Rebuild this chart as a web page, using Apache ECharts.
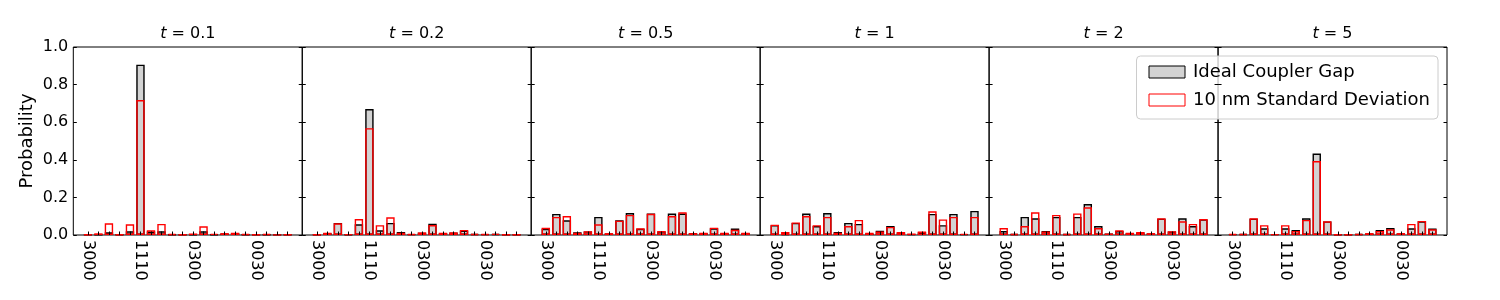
<!DOCTYPE html>
<html>
<head>
<meta charset="utf-8">
<script src="https://cdn.jsdelivr.net/npm/echarts@6/dist/echarts.min.js"></script>
<style>html,body{margin:0;padding:0;background:#fff}#c{width:1500px;height:300px}</style>
</head>
<body>
<div id="c"></div>
<script>
const states = ['3000','2100','2010','2001','1200','1110','1101','1020','1011','1002','0300','0210','0201','0120','0111','0102','0030','0021','0012','0003'];
const shownLabels = ['3000','1110','0300','0030'];
const times = ['0.1','0.2','0.5','1','2','5'];
const yTicks = [0, 0.2, 0.4, 0.6, 0.8, 1.0];

const ideal_t01 = [0.001,0.001,0.015,0.002,0.02,0.906,0.018,0.02,0.002,0.001,0.003,0.02,0.003,0.008,0.01,0.002,0.001,0.002,0.001,0.001];
const std_t01   = [0.003,0.009,0.062,0.003,0.057,0.718,0.025,0.059,0.006,0.002,0.008,0.046,0.007,0.01,0.012,0.005,0.002,0.005,0.001,0.002];
const ideal_t02 = [0.001,0.01,0.064,0.003,0.057,0.67,0.025,0.064,0.016,0.004,0.012,0.06,0.01,0.013,0.023,0.005,0.004,0.005,0.001,0.001];
const std_t02   = [0.002,0.012,0.062,0.004,0.085,0.568,0.052,0.094,0.012,0.005,0.014,0.053,0.012,0.014,0.027,0.006,0.005,0.007,0.002,0.002];
const ideal_t05 = [0.033,0.112,0.078,0.015,0.019,0.096,0.008,0.078,0.117,0.033,0.114,0.019,0.114,0.114,0.01,0.01,0.036,0.01,0.034,0.01];
const std_t05   = [0.038,0.096,0.101,0.012,0.02,0.057,0.01,0.076,0.107,0.036,0.113,0.021,0.101,0.121,0.01,0.012,0.039,0.012,0.028,0.012];
const ideal_t1  = [0.052,0.005,0.064,0.114,0.048,0.117,0.016,0.064,0.059,0.008,0.023,0.048,0.013,0.004,0.014,0.112,0.052,0.112,0.004,0.128];
const std_t1    = [0.055,0.016,0.067,0.101,0.052,0.096,0.012,0.048,0.08,0.012,0.018,0.043,0.016,0.008,0.018,0.126,0.083,0.096,0.007,0.096];
const ideal_t2  = [0.021,0.005,0.096,0.089,0.021,0.096,0.006,0.096,0.165,0.048,0.008,0.021,0.01,0.013,0.008,0.087,0.018,0.089,0.048,0.083];
const std_t2    = [0.037,0.006,0.048,0.121,0.018,0.107,0.006,0.115,0.147,0.037,0.008,0.025,0.012,0.016,0.01,0.089,0.02,0.073,0.059,0.085];
const ideal_t5  = [0.004,0.005,0.087,0.036,0.004,0.036,0.027,0.089,0.433,0.072,0.003,0.003,0.005,0.008,0.027,0.037,0.008,0.036,0.073,0.034];
const std_t5    = [0.006,0.005,0.089,0.052,0.004,0.052,0.021,0.08,0.393,0.073,0.003,0.003,0.005,0.01,0.021,0.03,0.01,0.059,0.075,0.03];

const idealSets = [ideal_t01, ideal_t02, ideal_t05, ideal_t1, ideal_t2, ideal_t5];
const stdSets = [std_t01, std_t02, std_t05, std_t1, std_t2, std_t5];

const FONT = 'DejaVu Sans';
const L0 = 73.3, PW = 228.95, TOP = 47, H = 188;
const CAT = PW / 21.78;
const INSET = (1.39 - 0.5) * CAT;

const grid = [], xAxis = [], yAxis = [], series = [], title = [];
for (let k = 0; k < 6; k++) {
  const left = L0 + PW * k;
  grid.push({left: left, top: TOP, width: PW, height: H, show: true, borderColor: '#000', borderWidth: 1, backgroundColor: 'transparent'});
  grid.push({left: left + INSET, top: TOP, width: CAT * 20, height: H});
  const gF = 2 * k, gB = 2 * k + 1;
  xAxis.push({gridIndex: gF, type: 'value', min: 0, max: 1, show: false});
  xAxis.push({
    gridIndex: gB, type: 'category', data: states, z: 5,
    axisLine: {show: false},
    axisTick: {show: true, inside: true, length: 3.5, alignWithLabel: true, interval: 0, lineStyle: {color: '#000', width: 1}},
    axisLabel: {
      interval: 0, rotate: -90, margin: 5, color: '#000', fontFamily: FONT, fontSize: 16,
      formatter: v => shownLabels.includes(v) ? v : ''
    }
  });
  yAxis.push({
    gridIndex: gF, type: 'value', min: 0, max: 1, interval: 0.2, position: 'left', z: 5,
    name: k === 0 ? 'Probability' : '', nameLocation: 'middle', nameGap: 37,
    nameTextStyle: {fontFamily: FONT, fontSize: 18, color: '#000'},
    axisLine: {show: false}, splitLine: {show: false},
    axisTick: {show: true, inside: true, length: 3.5, lineStyle: {color: '#000'}},
    axisLabel: {show: k === 0, margin: 5, color: '#000', fontFamily: FONT, fontSize: 16,
      formatter: v => yTicks.includes(Math.round(v * 10) / 10) ? (Math.round(v * 10) / 10).toFixed(1) : ''}
  });
  yAxis.push({
    gridIndex: gF, type: 'value', min: 0, max: 1, interval: 0.2, position: 'right', z: 5,
    axisLine: {show: false}, splitLine: {show: false},
    axisTick: {show: true, inside: true, length: 3.5, lineStyle: {color: '#000'}},
    axisLabel: {show: false}
  });
  yAxis.push({gridIndex: gB, type: 'value', min: 0, max: 1, show: false, splitLine: {show: false}});
  const xi = 2 * k + 1, yi = 3 * k + 2;
  series.push({
    name: 'Ideal Coupler Gap', type: 'bar', xAxisIndex: xi, yAxisIndex: yi,
    data: idealSets[k], barWidth: '80%', barGap: '-100%',
    itemStyle: {color: '#d3d3d3', borderColor: '#000', borderWidth: 1.4},
    emphasis: {disabled: true}, animation: false
  });
  series.push({
    name: '10 nm Standard Deviation', type: 'bar', xAxisIndex: xi, yAxisIndex: yi,
    data: stdSets[k], barWidth: '80%', barGap: '-100%',
    itemStyle: {color: 'rgba(255,255,255,0)', borderColor: '#ff0000', borderWidth: 1.4},
    emphasis: {disabled: true}, animation: false
  });
  title.push({
    text: '{it|t} = ' + times[k],
    left: left + PW / 2, top: 26, textAlign: 'center', padding: 0,
    textStyle: {fontFamily: FONT, fontSize: 16, fontWeight: 'normal', color: '#000',
      rich: {it: {fontFamily: FONT, fontStyle: 'italic', fontSize: 16, color: '#000'}}}
  });
}

const chart = echarts.init(document.getElementById('c'), null, {renderer: 'canvas'});
chart.setOption({
  animation: false,
  backgroundColor: '#fff',
  title: title,
  grid: grid, xAxis: xAxis, yAxis: yAxis, series: series,
  legend: {
    right: 62, top: 56, orient: 'vertical',
    backgroundColor: 'rgba(255,255,255,0.8)', borderColor: '#cccccc', borderWidth: 1, borderRadius: 4,
    padding: [7, 8, 10, 12], itemGap: 10, itemWidth: 36, itemHeight: 12,
    textStyle: {fontFamily: FONT, fontSize: 18, color: '#000', padding: [0, 0, 0, 3]},
    data: [
      {name: 'Ideal Coupler Gap', icon: 'rect', itemStyle: {color: '#d3d3d3', borderColor: '#000', borderWidth: 1}},
      {name: '10 nm Standard Deviation', icon: 'rect', itemStyle: {color: '#fff', borderColor: '#ff0000', borderWidth: 1}}
    ],
    selectedMode: false
  }
});
</script>
</body>
</html>
